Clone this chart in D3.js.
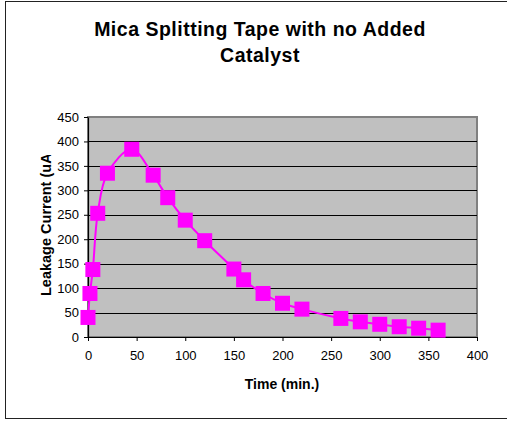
<!DOCTYPE html>
<html>
<head>
<meta charset="utf-8">
<script src="https://cdn.jsdelivr.net/npm/d3@7"></script>
<style>
  body { margin: 0; background: #fff; }
  text { font-family: "Liberation Sans", Arial, sans-serif; }
</style>
</head>
<body>
<div id="chart"></div>
<script>
// data
var times   = [0, 2, 5, 10, 20, 45, 67, 82, 100, 120, 150, 160, 180, 200, 220, 260, 280, 300, 320, 340, 360];
var current = [40, 89, 138, 253, 335, 384, 331, 285, 239, 197, 139, 117, 89, 69, 57, 38, 31, 26, 21, 18, 14];
var xTicks = [0, 50, 100, 150, 200, 250, 300, 350, 400];
var yTicks = [0, 50, 100, 150, 200, 250, 300, 350, 400, 450];

var W = 507, H = 421;
var plot = {left: 88, right: 477, top: 117, bottom: 337};

var svg = d3.select("#chart").append("svg")
  .attr("width", W)
  .attr("height", H);

// outer chart border
svg.append("rect")
  .attr("x", 5.5).attr("y", 1.5)
  .attr("width", 510).attr("height", 417)
  .attr("fill", "#fff")
  .attr("stroke", "#222").attr("stroke-width", 1);

var x = d3.scaleLinear().domain([0, 400]).range([plot.left, plot.right]);
var y = d3.scaleLinear().domain([0, 450]).range([plot.bottom, plot.top]);

// plot area
svg.append("rect")
  .attr("x", plot.left).attr("y", plot.top)
  .attr("width", plot.right - plot.left).attr("height", plot.bottom - plot.top)
  .attr("fill", "#c0c0c0")
  .attr("stroke", "#808080").attr("stroke-width", 2);

// gridlines
svg.append("g")
  .selectAll("line")
  .data(yTicks.filter(function(d){ return d > 0 && d < 450; }))
  .enter().append("line")
    .attr("x1", plot.left).attr("x2", plot.right)
    .attr("y1", function(d){ return Math.round(y(d)) + 0.5; })
    .attr("y2", function(d){ return Math.round(y(d)) + 0.5; })
    .attr("stroke", "#000").attr("stroke-width", 1);

// axes
var yAxis = svg.append("g")
  .attr("transform", "translate(" + plot.left + ",0)")
  .call(d3.axisLeft(y).tickValues(yTicks).tickSize(4).tickSizeOuter(0));
var xAxis = svg.append("g")
  .attr("transform", "translate(0," + plot.bottom + ")")
  .call(d3.axisBottom(x).tickValues(xTicks).tickSize(4).tickSizeOuter(0));

[xAxis, yAxis].forEach(function(a){
  a.select(".domain").attr("stroke", "#000").attr("stroke-width", 1.2);
  a.selectAll(".tick line").attr("stroke", "#000");
  a.selectAll(".tick text")
    .attr("fill", "#000")
    .style("font-size", "13px")
    .style("font-family", "Liberation Sans, Arial, sans-serif");
});
yAxis.selectAll(".tick text").attr("x", -9);
xAxis.selectAll(".tick text").attr("y", 14);

// line + markers
var line = d3.line()
  .x(function(d, i){ return x(times[i]); })
  .y(function(d){ return y(d); })
  .curve(d3.curveCatmullRom.alpha(0.5));

svg.append("path")
  .datum(current)
  .attr("d", line)
  .attr("fill", "none")
  .attr("stroke", "#ff00ff")
  .attr("stroke-width", 2);

var ms = 15;
svg.append("g")
  .selectAll("rect")
  .data(current)
  .enter().append("rect")
    .attr("x", function(d, i){ return x(times[i]) - ms / 2; })
    .attr("y", function(d){ return y(d) - ms / 2; })
    .attr("width", ms).attr("height", ms)
    .attr("fill", "#ff00ff");

// titles
var title = svg.append("text")
  .attr("text-anchor", "middle")
  .style("font-size", "19.5px")
  .style("letter-spacing", "0.5px")
  .style("font-weight", "bold");
title.append("tspan").attr("x", 260).attr("y", 36).text("Mica Splitting Tape with no Added");
title.append("tspan").attr("x", 260).attr("y", 62).text("Catalyst");

svg.append("text")
  .attr("x", 282).attr("y", 389)
  .attr("text-anchor", "middle")
  .style("font-size", "14px")
  .style("font-weight", "bold")
  .text("Time (min.)");

// y label is clipped at the top in the original
svg.append("clipPath").attr("id", "ylabclip")
  .append("rect").attr("x", 20).attr("y", 155).attr("width", 40).attr("height", 200);

svg.append("g")
  .attr("clip-path", "url(#ylabclip)")
  .append("text")
    .attr("transform", "translate(51,296) rotate(-90)")
    .attr("text-anchor", "start")
    .style("font-size", "14.5px")
    .style("font-weight", "bold")
    .text("Leakage Current (uA)");
</script>
</body>
</html>
